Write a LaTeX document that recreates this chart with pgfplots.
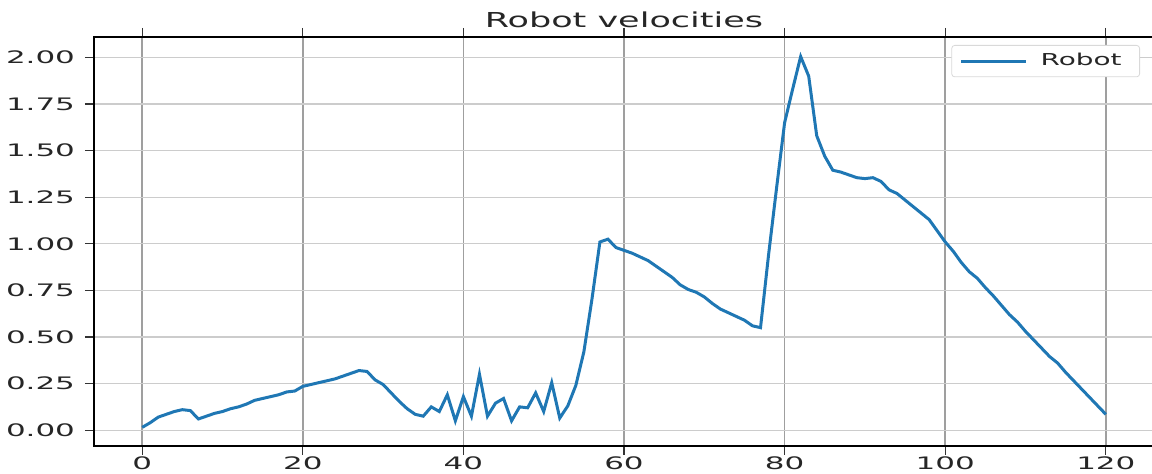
\documentclass[border=0pt]{standalone}
\usepackage{pgfplots}
\pgfplotsset{compat=1.18}
\usepackage{fontspec}
\setmainfont{DejaVu Sans}[FakeStretch=1.7]
\newfontfamily\tickfont{DejaVu Sans}[FakeStretch=1.8]
\definecolor{mplblue}{HTML}{1F77B4}
\pgfplotstableread{
x y
0 0.015
1 0.04
2 0.07
3 0.085
4 0.10
5 0.11
6 0.105
7 0.06
8 0.075
9 0.09
10 0.10
11 0.115
12 0.125
13 0.14
14 0.16
15 0.17
16 0.18
17 0.19
18 0.205
19 0.21
20 0.235
21 0.245
22 0.255
23 0.265
24 0.275
25 0.29
26 0.305
27 0.32
28 0.315
29 0.27
30 0.245
31 0.20
32 0.155
33 0.115
34 0.085
35 0.075
36 0.125
37 0.10
38 0.19
39 0.05
40 0.18
41 0.075
42 0.30
43 0.075
44 0.145
45 0.17
46 0.05
47 0.125
48 0.12
49 0.20
50 0.10
51 0.255
52 0.065
53 0.13
54 0.24
55 0.42
56 0.70
57 1.01
58 1.025
59 0.98
60 0.965
61 0.95
62 0.93
63 0.91
64 0.88
65 0.85
66 0.82
67 0.78
68 0.755
69 0.74
70 0.715
71 0.68
72 0.65
73 0.63
74 0.61
75 0.59
76 0.56
77 0.55
78 0.94
79 1.30
80 1.65
81 1.83
82 2.005
83 1.90
84 1.58
85 1.47
86 1.395
87 1.385
88 1.37
89 1.355
90 1.35
91 1.355
92 1.335
93 1.29
94 1.27
95 1.235
96 1.20
97 1.165
98 1.13
99 1.07
100 1.01
101 0.96
102 0.90
103 0.85
104 0.815
105 0.765
106 0.72
107 0.67
108 0.62
109 0.58
110 0.53
111 0.485
112 0.44
113 0.395
114 0.36
115 0.31
116 0.265
117 0.22
118 0.175
119 0.13
120 0.085
}\robotdata
\begin{document}
\begin{tikzpicture}
\begin{axis}[
  at={(0,0)}, anchor=south west,
  scale only axis, width=530bp, height=204.5bp,
  xmin=-6, xmax=126, ymin=-0.085, ymax=2.11,
  xtick={0,20,40,60,80,100,120},
  ytick={0,0.25,0.5,0.75,1.0,1.25,1.5,1.75,2.0},
  /pgf/number format/assume math mode=true,
  tick label style={font=\tickfont\fontsize{8.6bp}{9bp}\selectfont, text=black!85},
  yticklabel style={xshift=-1.5bp, /pgf/number format/.cd, fixed, fixed zerofill, precision=2},
  xticklabel style={yshift=2.5bp},
  tick align=outside, major tick length=4.5bp,
  tick style={black!80, line width=0.6bp},
  xmajorgrids, ymajorgrids,
  x grid style={gray!75, line width=0.8bp},
  y grid style={gray!40, line width=0.6bp},
  axis line style={black, line width=0.8bp},
  title={Robot velocities},
  title style={font=\fontsize{10.3bp}{12bp}\selectfont, text=black!85, anchor=base, at={(0.5,1)}, yshift=-1bp},
  legend style={at={(1,1)}, anchor=north east, xshift=-7bp, yshift=-4bp,
    draw=gray!30, rounded corners=1.5bp, fill=white,
    font=\fontsize{8.2bp}{9bp}\selectfont, text=black!85,
    inner xsep=4bp, inner ysep=4bp,
    nodes={inner xsep=0pt, inner ysep=0pt},
    /tikz/every odd column/.append style={column sep=6.5bp}},
  legend image code/.code={\draw[#1] (0bp,0bp) -- (32.5bp,0bp);},
  legend cell align=left,
]
\addplot[mplblue, line width=1.5bp] table[x=x, y=y] {\robotdata};
\addlegendentry{Robot\rule{5bp}{0pt}}
\end{axis}
\pgfresetboundingbox
\useasboundingbox (-47bp,-14bp) rectangle (529bp,223bp);
\end{tikzpicture}
\end{document}
